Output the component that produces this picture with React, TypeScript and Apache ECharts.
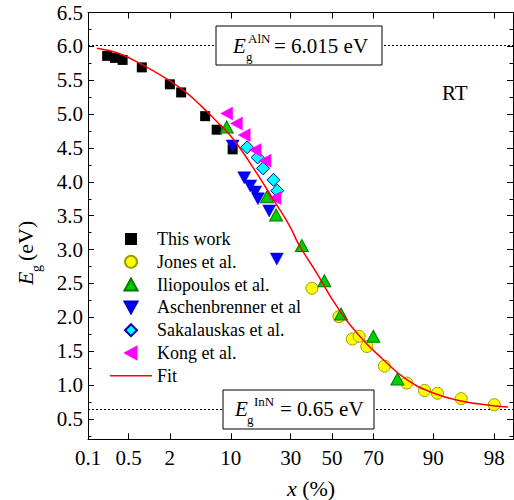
import React, { useEffect, useRef } from "react";
import * as echarts from "echarts";

// ---------- data (x in %, Eg in eV) ----------
const thisWorkX = [0.22, 0.3, 0.4, 0.8, 2.0, 2.8, 5.4, 7.2, 10.4];
const thisWorkY = [5.86, 5.83, 5.8, 5.69, 5.44, 5.32, 4.97, 4.77, 4.48];
const jonesX = [39.9, 53.5, 60.1, 63.4, 67.0, 74.6, 82.8, 87.9, 90.9, 94.9, 98.0];
const jonesY = [2.43, 2.01, 1.68, 1.72, 1.57, 1.28, 1.03, 0.92, 0.88, 0.8, 0.71];
const iliopoulosX = [9.1, 20.5, 23.9, 35.1, 46.1, 54.5, 69.9, 79.6];
const iliopoulosY = [4.81, 3.78, 3.51, 3.06, 2.54, 2.05, 1.72, 1.09];
const aschX = [10.4, 13.3, 15.0, 16.5, 17.4, 21.3, 24.2];
const aschY = [4.53, 4.06, 3.94, 3.85, 3.75, 3.57, 2.86];
const sakX = [14.1, 17.3, 19.1, 22.9, 24.4];
const sakY = [4.51, 4.36, 4.2, 4.03, 3.87];
const kongX = [9.1, 11.3, 13.3, 16.5, 19.8, 23.5];
const kongY = [5.01, 4.86, 4.69, 4.47, 4.31, 3.76];
const fitX = [0.145, 0.34, 0.63, 1.12, 1.91, 3.14, 4.96, 7.51, 9.46, 12.2, 17.0, 22.9, 29.7, 33.5, 42.3, 52.4, 63.8, 74.2, 82.8, 90.0, 94.7, 97.9, 98.7];
const fitY = [5.972, 5.898, 5.785, 5.652, 5.504, 5.332, 5.111, 4.866, 4.718, 4.497, 4.128, 3.735, 3.341, 3.086, 2.653, 2.161, 1.718, 1.375, 1.08, 0.883, 0.77, 0.696, 0.677];

const seriesNames = ["This work", "Jones et al.", "Iliopoulos et al.", "Aschenbrenner et al", "Sakalauskas et al.", "Kong et al.", "Fit"];

const xTickPcts = [0.1, 0.5, 2, 10, 30, 50, 70, 90, 98];
const yMajorTicks = [0.5, 1.0, 1.5, 2.0, 2.5, 3.0, 3.5, 4.0, 4.5, 5.0, 5.5, 6.0, 6.5];
const yMinorTicks = [0.25, 0.75, 1.25, 1.75, 2.25, 2.75, 3.25, 3.75, 4.25, 4.75, 5.25, 5.75, 6.25];
const refLines = [6.015, 0.65];

// ---------- probability (probit) scale ----------
function probit(p: number): number {
  const a = [-3.969683028665376e1, 2.209460984245205e2, -2.759285104469687e2, 1.38357751867269e2, -3.066479806614716e1, 2.506628277459239];
  const b = [-5.447609879822406e1, 1.615858368580409e2, -1.556989798598866e2, 6.680131188771972e1, -1.328068155288572e1];
  const c = [-7.784894002430293e-3, -3.223964580411365e-1, -2.400758277161838, -2.549732539343734, 4.374664141464968, 2.938163982698783];
  const d = [7.784695709041462e-3, 3.224671290700398e-1, 2.445134137142996, 3.754408661907416];
  const pl = 0.02425;
  const ph = 1 - pl;
  if (p < pl) {
    const q = Math.sqrt(-2 * Math.log(p));
    return (((((c[0] * q + c[1]) * q + c[2]) * q + c[3]) * q + c[4]) * q + c[5]) / ((((d[0] * q + d[1]) * q + d[2]) * q + d[3]) * q + 1);
  }
  if (p <= ph) {
    const q = p - 0.5;
    const r = q * q;
    return ((((((a[0] * r + a[1]) * r + a[2]) * r + a[3]) * r + a[4]) * r + a[5]) * q) / (((((b[0] * r + b[1]) * r + b[2]) * r + b[3]) * r + b[4]) * r + 1);
  }
  const q = Math.sqrt(-2 * Math.log(1 - p));
  return -(((((c[0] * q + c[1]) * q + c[2]) * q + c[3]) * q + c[4]) * q + c[5]) / ((((d[0] * q + d[1]) * q + d[2]) * q + d[3]) * q + 1);
}
const pz = (pct: number) => probit(pct / 100);
const pairs = (xs: number[], ys: number[]) => xs.map((x, i) => [pz(x), ys[i]]);

const FONT = "Liberation Serif";
const RECT = "path://M0,0L10,0L10,10L0,10Z";
const TRI = "path://M6,0L12,11L0,11Z";
const INV_TRI = "path://M0,0L12,0L6,11Z";
const DIAMOND = "path://M6,0L12,6L6,12L0,6Z";
const LEFT_TRI = "path://M0,6L11,0L11,12Z";
const LINE_ICON = "path://M0,0L42,0L42,1.5L0,1.5Z";

export default function App() {
  const ref = useRef<HTMLDivElement>(null);
  useEffect(() => {
    if (!ref.current) return;
    const chart = echarts.init(ref.current, undefined, { renderer: "svg" });
    const xMin = pz(0.1);
    const xMax = pz(98.9);
    const xTickVals = xTickPcts.map(pz);
    const xLabel = (v: number) => {
      let best = 0;
      xTickVals.forEach((t, i) => {
        if (Math.abs(t - v) < Math.abs(xTickVals[best] - v)) best = i;
      });
      return String(xTickPcts[best]);
    };
    const yMin = 0.2;
    const yMax = 6.5;
    const axisLine = { show: true, onZero: false, lineStyle: { color: "#000", width: 1 } };
    const labelStyle = { fontFamily: FONT, fontSize: 21, color: "#000" };

    const yAxisBase = (position: "left" | "right", ticks: number[], len: number, showLine: boolean, showLabel: boolean) => ({
      type: "value",
      min: yMin,
      max: yMax,
      position,
      axisLine: { ...axisLine, show: showLine },
      axisTick: { show: true, inside: true, length: len, customValues: ticks, lineStyle: { color: "#000", width: 1 } },
      axisLabel: {
        show: showLabel,
        customValues: ticks,
        formatter: (v: number) => v.toFixed(1),
        margin: 5,
        ...labelStyle,
      },
      splitLine: { show: false },
    });

    const Z = 100;
    const txt = (x: number, y: number, text: string, size: number, italic = false) => ({
      type: "text",
      x,
      y,
      z: Z + 1,
      style: { text, fontFamily: FONT, fontStyle: italic ? "italic" : "normal", fontSize: size, fill: "#000", verticalAlign: "middle" },
    });

    const option: any = {
      animation: false,
      backgroundColor: "#fff",
      grid: { left: 88, right: 1, top: 12.5, bottom: 60.7, containLabel: false },
      xAxis: [
        {
          type: "value",
          min: xMin,
          max: xMax,
          position: "bottom",
          axisLine,
          axisTick: { show: true, inside: true, length: 6, customValues: xTickVals, lineStyle: { color: "#000" } },
          axisLabel: { show: true, customValues: xTickVals, formatter: xLabel, margin: 8, ...labelStyle },
          splitLine: { show: false },
        },
        {
          type: "value",
          min: xMin,
          max: xMax,
          position: "top",
          axisLine,
          axisTick: { show: true, inside: true, length: 6, customValues: xTickVals, lineStyle: { color: "#000" } },
          axisLabel: { show: false, customValues: xTickVals },
          splitLine: { show: false },
        },
      ],
      yAxis: [
        yAxisBase("left", yMajorTicks, 6, true, true),
        yAxisBase("left", yMinorTicks, 3.5, false, false),
        yAxisBase("right", yMajorTicks, 6, true, false),
        yAxisBase("right", yMinorTicks, 3.5, false, false),
      ],
      legend: {
        orient: "vertical",
        left: 110,
        top: 230,
        padding: 0,
        itemWidth: 42,
        itemHeight: 12,
        itemGap: 4.8,
        symbolKeepAspect: true,
        selectedMode: false,
        textStyle: { fontFamily: FONT, fontSize: 18, color: "#000", lineHeight: 18 },
        data: [
          { name: seriesNames[0], icon: RECT },
          { name: seriesNames[1], icon: "circle" },
          { name: seriesNames[2], icon: TRI },
          { name: seriesNames[3], icon: INV_TRI },
          { name: seriesNames[4], icon: DIAMOND },
          { name: seriesNames[5], icon: LEFT_TRI },
          { name: seriesNames[6], icon: LINE_ICON },
        ],
      },
      series: [
        {
          name: seriesNames[0],
          type: "scatter",
          symbol: "rect",
          symbolSize: 10,
          itemStyle: { color: "#000", opacity: 1 },
          data: pairs(thisWorkX, thisWorkY),
        },
        {
          name: seriesNames[1],
          type: "scatter",
          symbol: "circle",
          symbolSize: 12,
          itemStyle: { color: "#ffff00", borderColor: "#9a9a00", borderWidth: 1, opacity: 1 },
          data: pairs(jonesX, jonesY),
        },
        {
          name: seriesNames[2],
          type: "scatter",
          symbol: "triangle",
          symbolSize: [13, 12],
          itemStyle: { color: "#00d000", borderColor: "#007a00", borderWidth: 1, opacity: 1 },
          data: pairs(iliopoulosX, iliopoulosY),
        },
        {
          name: seriesNames[3],
          type: "scatter",
          symbol: INV_TRI,
          symbolSize: [13, 12],
          itemStyle: { color: "#0000ff", borderColor: "#0000cc", borderWidth: 0.5, opacity: 1 },
          data: pairs(aschX, aschY),
        },
        {
          name: seriesNames[4],
          type: "scatter",
          symbol: "diamond",
          symbolSize: [13, 13],
          itemStyle: { color: "#00ffff", borderColor: "#0000b0", borderWidth: 1, opacity: 1 },
          data: pairs(sakX, sakY),
        },
        {
          name: seriesNames[5],
          type: "scatter",
          symbol: LEFT_TRI,
          symbolSize: [12, 13],
          itemStyle: { color: "#ff00ff", borderColor: "#ff00ff", borderWidth: 0.5, opacity: 1 },
          data: pairs(kongX, kongY),
        },
        {
          name: seriesNames[6],
          type: "line",
          smooth: true,
          symbol: "none",
          lineStyle: { color: "#ff0000", width: 1.5 },
          itemStyle: { color: "#ff0000" },
          data: pairs(fitX, fitY),
          markLine: {
            silent: true,
            symbol: ["none", "none"],
            label: { show: false },
            lineStyle: { color: "#000", width: 1, type: [2, 2] },
            data: refLines.map((v) => ({ yAxis: v })),
            z: 1,
          },
        },
      ],
      graphic: [
        { type: "rect", z: Z, shape: { x: 216, y: 26, width: 166, height: 39 }, style: { fill: "#fff", stroke: "#000", lineWidth: 1 } },
        txt(233, 46, "E", 21, true),
        txt(248, 38, "AlN", 13),
        txt(246, 56, "g", 13),
        txt(274, 46, "= 6.015 eV", 21),

        { type: "rect", z: Z, shape: { x: 223, y: 390, width: 151, height: 39 }, style: { fill: "#fff", stroke: "#000", lineWidth: 1 } },
        txt(235, 409, "E", 21, true),
        txt(254, 401, "InN", 13),
        txt(247, 419, "g", 13),
        txt(280, 409, "= 0.65 eV", 21),

        txt(442, 93, "RT", 21),

        {
          type: "text",
          x: 311,
          y: 488,
          z: Z,
          style: {
            text: "{i|x} (%)",
            fontFamily: FONT,
            fontSize: 22,
            fill: "#000",
            align: "center",
            verticalAlign: "middle",
            rich: { i: { fontFamily: FONT, fontStyle: "italic", fontSize: 22 } },
          },
        },
        {
          type: "group",
          x: 25,
          y: 285,
          z: Z,
          rotation: Math.PI / 2,
          children: [
            txt(0, 0, "E", 22, true),
            txt(13, 11, "g", 14),
            txt(24, 0, "(eV)", 22),
          ],
        },
      ],
    };
    chart.setOption(option);
    return () => chart.dispose();
  }, []);
  return <div ref={ref} style={{ position: "absolute", left: 0, top: 0, width: 514, height: 500 }} />;
}
